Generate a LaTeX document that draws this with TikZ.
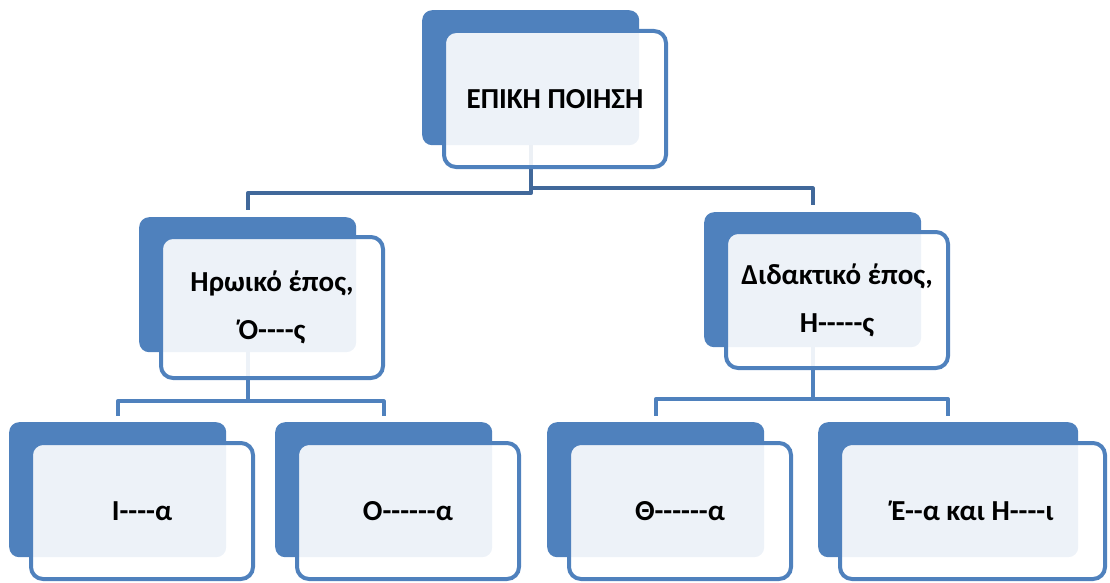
\documentclass[tikz,border=0pt]{standalone}
\usepackage{fontspec}
\setmainfont{Carlito}[Ligatures=TeXOff]
\usetikzlibrary{backgrounds}
\definecolor{boxblue}{HTML}{4F81BD}
\definecolor{linkdark}{HTML}{41689A}
\tikzset{
    backbox/.style={fill=boxblue, rounded corners=10pt, anchor=north west,
        minimum width=217pt, minimum height=135pt, inner sep=0pt},
    frontbox/.style={draw=boxblue, line width=4pt, fill=white, fill opacity=0.9,
        text opacity=1, rounded corners=12pt, anchor=north west,
        minimum width=222pt, minimum height=136pt, inner sep=0pt, align=center,
        font=\bfseries\fontsize{29}{48}\selectfont},
    linkline/.style={draw=boxblue, line width=4pt, line join=round},
}
\begin{document}
\begin{tikzpicture}[x=1pt, y=-1pt]
            \useasboundingbox (0,0) rectangle (1110,583);
            % Back boxes with manual coordinates
            \node[backbox] (topb) at (422,10) {};
            \node[backbox] (hlb) at (139,217) {};
            \node[backbox] (drb) at (704,212) {};
            \node[backbox] (ilb) at (9,422) {};
            \node[backbox] (odb) at (275,422) {};
            \node[backbox] (thb) at (547,422) {};
            \node[backbox, minimum width=260pt] (erb) at (818,422) {};

            % Front boxes with the texts
            \node[frontbox] (top) at ([shift={(20,19)}]topb.north west) {ΕΠΙΚΗ ΠΟΙΗΣΗ};
            \node[frontbox, minimum height=141pt] (hl) at ([shift={(20,18)}]hlb.north west) {Ηρωικό έπος,\\ Ό----ς};
            \node[frontbox] (dr) at ([shift={(20,18)}]drb.north west) {Διδακτικό έπος,\\ Η-----ς};
            \node[frontbox] (il) at ([shift={(20,19)}]ilb.north west) {Ι----α};
            \node[frontbox] (od) at ([shift={(20,19)}]odb.north west) {Ο------α};
            \node[frontbox] (th) at ([shift={(20,19)}]thb.north west) {Θ------α};
            \node[frontbox, minimum width=265pt] (er) at ([shift={(20,19)}]erb.north west) {Έ--α και Η----ι};

            % Edges
            \begin{scope}[on background layer]
                \draw[linkline, draw=linkdark] (topb.south) -- ++(0,48) -| ([yshift=7pt]hlb.north);
                \draw[linkline, draw=linkdark] (topb.south) -- ++(0,43) -| ([yshift=7pt]drb.north);
                \draw[linkline] (hlb.south) -- ++(0,49) -| ([yshift=6pt]ilb.north);
                \draw[linkline] (hlb.south) -- ++(0,49) -| ([yshift=6pt]odb.north);
                \draw[linkline] (drb.south) -- ++(0,52) -| ([yshift=6pt]thb.north);
                \draw[linkline] (drb.south) -- ++(0,52) -| ([yshift=6pt]erb.north);
            \end{scope}
        \end{tikzpicture}
\end{document}
